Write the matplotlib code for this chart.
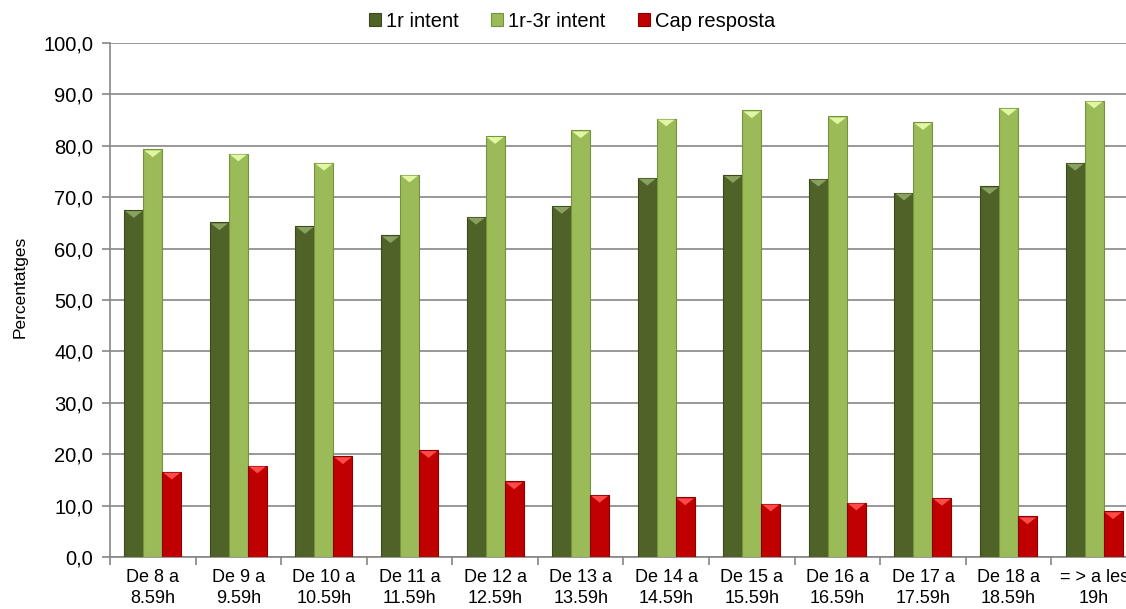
import numpy as np
import matplotlib
matplotlib.use("Agg")
import matplotlib.pyplot as plt
from matplotlib.ticker import FuncFormatter, FixedLocator

plt.rcParams["font.family"] = ["Liberation Sans", "DejaVu Sans"]

# dades
franges = ["De 8 a\n8.59h", "De 9 a\n9.59h", "De 10 a\n10.59h", "De 11 a\n11.59h",
           "De 12 a\n12.59h", "De 13 a\n13.59h", "De 14 a\n14.59h", "De 15 a\n15.59h",
           "De 16 a\n16.59h", "De 17 a\n17.59h", "De 18 a\n18.59h", "= > a les\n19h"]
primer_intent = [67.5, 65.1, 64.4, 62.6, 66.2, 68.3, 73.8, 74.3, 73.6, 70.9, 72.1, 76.7]
tercer_intent = [79.3, 78.5, 76.7, 74.4, 81.9, 83.0, 85.3, 86.9, 85.7, 84.6, 87.4, 88.8]
cap_resposta = [16.6, 17.8, 19.6, 20.8, 14.7, 12.1, 11.6, 10.4, 10.6, 11.5, 7.9, 8.9]

series = [
    ("1r intent", primer_intent, "#4f6228", "#3a4a1c", "#8aa060"),
    ("1r-3r intent", tercer_intent, "#9bbb59", "#76923c", "#e2f7a4"),
    ("Cap resposta", cap_resposta, "#c00000", "#8c0000", "#ff4a4a"),
]

# triangle pla per imitar el bisell de dalt
bisell = [(-1, 0), (1, 0), (0, -0.8), (-1, 0)]

fig = plt.figure(figsize=(11.26, 6.09), dpi=100)
ax = fig.add_axes([0.0977, 0.0854, 0.912, 0.844])

x = np.arange(len(franges))
w = 0.222
for i, (nom, vals, col, vora, top) in enumerate(series):
    pos = x + (i - 1) * w
    ax.bar(pos, vals, width=w, color=col, edgecolor=vora, linewidth=0.8,
           label=nom, zorder=3)
    ax.scatter(pos, np.array(vals) - 0.2, marker=bisell, s=150, color=top,
               edgecolors="none", zorder=4)

ax.set_xlim(-0.5, len(franges) - 0.5)
ax.set_ylim(0, 100)
ax.set_yticks(np.arange(0, 101, 10))
ax.yaxis.set_major_formatter(FuncFormatter(lambda v, p: f"{v:.1f}".replace(".", ",")))
ax.set_xticks(x)
ax.set_xticklabels(franges, fontsize=13, linespacing=1.3)
ax.xaxis.set_minor_locator(FixedLocator(np.arange(-0.5, len(franges), 1)))
ax.tick_params(axis="x", which="major", length=0, pad=9)
ax.tick_params(axis="x", which="minor", length=6, color="#868686", width=1.2)
ax.tick_params(axis="y", length=6, color="#868686", width=1.2, labelsize=14.5, pad=6)
ax.set_ylabel("Percentatges", fontsize=12.5)
ax.yaxis.set_label_coords(-0.08, 0.525)

ax.grid(axis="y", color="#868686", linewidth=1.2, zorder=0)
for s in ["top", "right"]:
    ax.spines[s].set_visible(False)
for s in ["left", "bottom"]:
    ax.spines[s].set_color("#868686")
    ax.spines[s].set_linewidth(1.2)

ax.legend(loc="center", bbox_to_anchor=(0.508, 0.965), bbox_transform=fig.transFigure,
          ncol=3, frameon=False, fontsize=14.5, handlelength=0.6, handleheight=0.6,
          handletextpad=0.25, columnspacing=1.6, borderpad=0)

fig.savefig("out.png", dpi=100)
